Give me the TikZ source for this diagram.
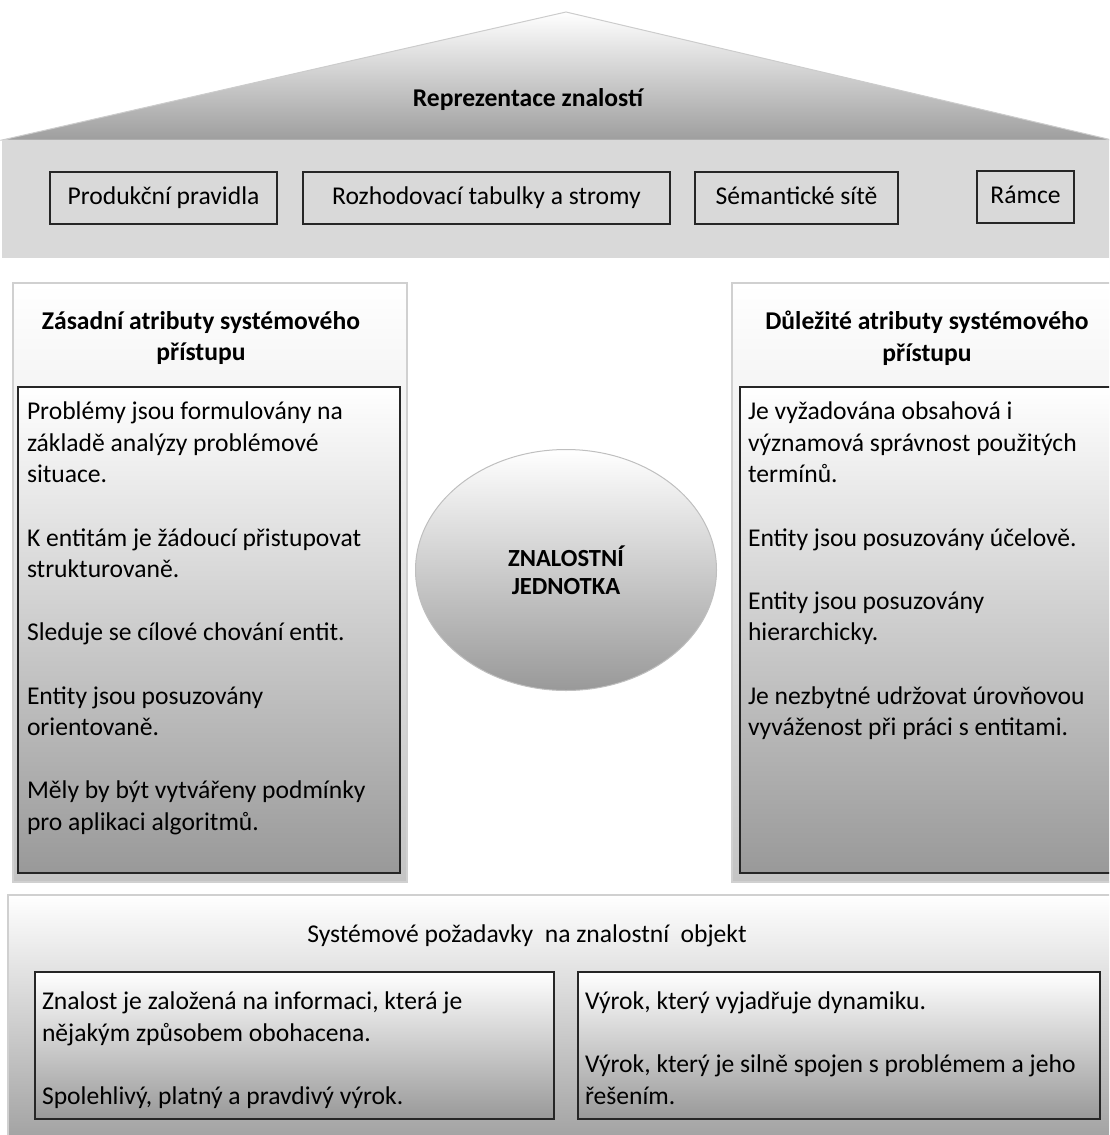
\documentclass[tikz,border=0pt]{standalone}
\usepackage{fontspec}
\setmainfont{Carlito}
\usetikzlibrary{shapes.geometric,fit}

\definecolor{bandgray}{HTML}{D9D9D9}
\definecolor{roofgray}{HTML}{9E9E9E}
\definecolor{boxedge}{HTML}{262626}
\definecolor{paneledge}{HTML}{D0D0D0}
\definecolor{deepgray}{HTML}{999999}
\definecolor{panelgray}{HTML}{C4C4C4}
\newcommand{\bodyfont}{\fontsize{12.8}{15.8}\selectfont}

\begin{document}
\begin{tikzpicture}[x=0.5pt,y=-0.5pt,
  every node/.style={inner sep=0pt, outer sep=0pt, text=black},
  band/.style={fill=bandgray, draw=none},
  tagbox/.style={draw=boxedge, line width=0.8pt, fill=bandgray, font=\bodyfont,
                 text height=9pt, text depth=2.6pt},
  panel/.style={draw=paneledge, line width=0.6pt, top color=white, bottom color=panelgray},
  listbox/.style={draw=boxedge, line width=0.9pt, top color=white, bottom color=deepgray},
  body/.style={anchor=north west, align=left, font=\bodyfont},
  heading/.style={align=center, font=\bodyfont\bfseries},
]
\useasboundingbox (0,0) rectangle (1109,1135);
\clip (0,0) rectangle (1109,1135);

% roof
\path[draw=black!20, line width=0.5pt, top color=white, bottom color=roofgray]
  (2,140) -- (566,12) -- (1112,140) -- cycle;
\node[font=\bodyfont\bfseries] (rooftitle) at (528,100) {Reprezentace znalostí};

% band with the four representation forms
\node[band, fit={(2,140)(1140,258)}] (band) {};
\node[tagbox, minimum width=113.5pt, minimum height=26pt] (prod) at (163.5,198) {Produkční pravidla};
\node[tagbox, minimum width=183.5pt, minimum height=26pt] (rozh) at (486.5,198) {Rozhodovací tabulky a stromy};
\node[tagbox, minimum width=101.5pt, minimum height=26pt] (sem) at (796.5,198) {Sémantické sítě};
\node[tagbox, minimum width=48.5pt, minimum height=26pt] (ramce) at (1025.5,197) {Rámce};

% left pillar
\node[panel, fit={(13,283)(407,882)}] (lpanel) {};
\node[listbox, fit={(18,387)(400,873)}] (lbox) {};
\node[heading] (ltitle) at (201,338) {Zásadní atributy systémového\\přístupu};
\node[body] (ltext) at (27,402) {Problémy jsou formulovány na\\
základě analýzy problémové\\
situace.\\[15.8pt]
K entitám je žádoucí přistupovat\\
strukturovaně.\\[15.8pt]
Sleduje se cílové chování entit.\\[15.8pt]
Entity jsou posuzovány\\
orientovaně.\\[15.8pt]
Měly by být vytvářeny podmínky\\
pro aplikaci algoritmů.};

% right pillar
\node[panel, fit={(732,283)(1150,882)}] (rpanel) {};
\node[listbox, fit={(740,387)(1145,873)}] (rbox) {};
\node[heading] (rtitle) at (927,338) {Důležité atributy systémového\\přístupu};
\node[body] (rtext) at (748,402) {Je vyžadována obsahová i\\
významová správnost použitých\\
termínů.\\[15.8pt]
Entity jsou posuzovány účelově.\\[15.8pt]
Entity jsou posuzovány\\
hierarchicky.\\[15.8pt]
Je nezbytné udržovat úrovňovou\\
vyváženost při práci s entitami.};

% central unit
\node[ellipse, minimum width=150.5pt, minimum height=120.5pt, draw=black!25, line width=0.5pt,
      top color=white, bottom color=deepgray, align=center,
      font=\fontsize{12.3}{14}\selectfont\bfseries] (unit) at (566,570) {ZNALOSTNÍ\\JEDNOTKA};

% foundation
\node[draw=paneledge, line width=0.6pt, top color=white, bottom color=black!38,
      fit={(8,895)(1150,1150)}] (req) {};
\node[font=\bodyfont] (reqtitle) at (527,936) {Systémové požadavky~ na znalostní~ objekt};
\node[listbox, fit={(35,972)(554,1119)}] (reqa) {};
\node[listbox, fit={(578,972)(1100,1119)}] (reqb) {};
\node[body] (reqatext) at (42,992) {Znalost je založená na informaci, která je\\
nějakým způsobem obohacena.\\[15.8pt]
Spolehlivý, platný a pravdivý výrok.};
\node[body] (reqbtext) at (585,992) {Výrok, který vyjadřuje dynamiku.\\[15.8pt]
Výrok, který je silně spojen s problémem a jeho\\
řešením.};
\end{tikzpicture}
\end{document}
